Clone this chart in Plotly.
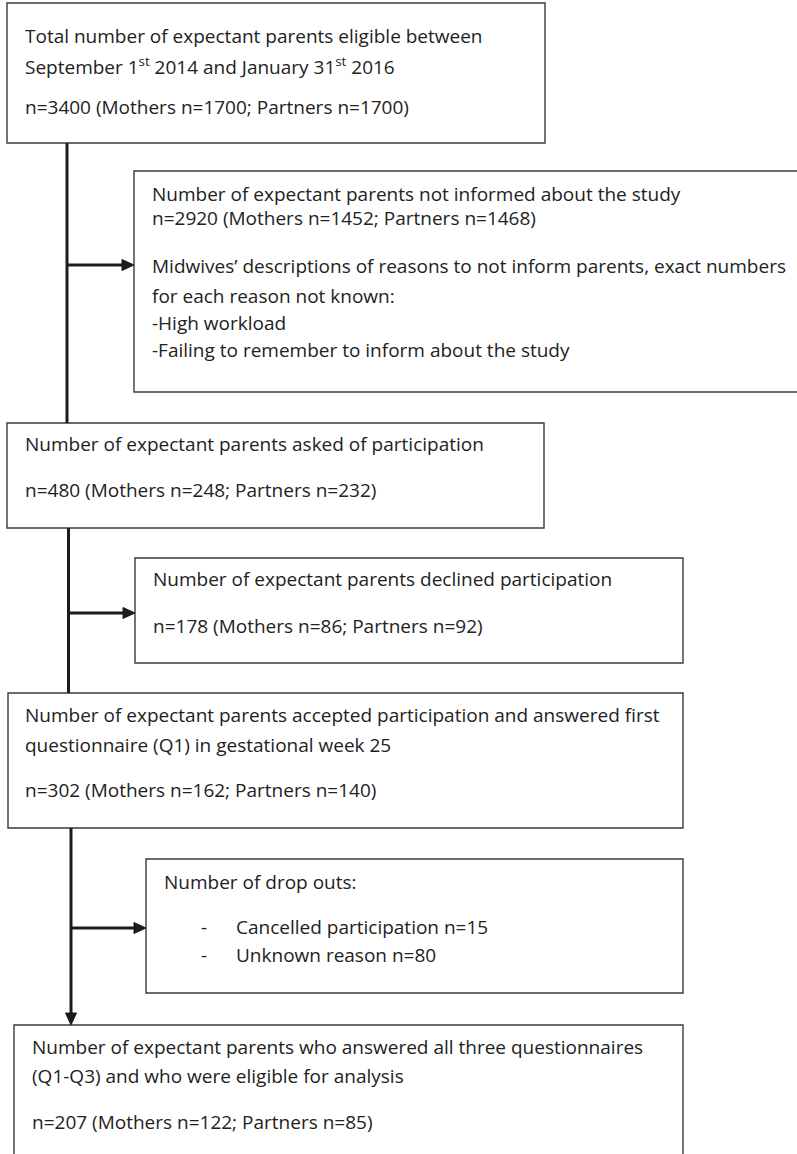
import plotly.graph_objects as go

# ---------------- data ----------------
main_titles = [
    ["Total number of expectant parents eligible between",
     "September 1<sup>st</sup> 2014 and January 31<sup>st</sup> 2016"],
    ["Number of expectant parents asked of participation"],
    ["Number of expectant parents accepted participation and answered first",
     "questionnaire (Q1) in gestational week 25"],
    ["Number of expectant parents who answered all three questionnaires",
     "(Q1-Q3) and who were eligible for analysis"],
]
main_n = [3400, 480, 302, 207]
main_mothers = [1700, 248, 162, 122]
main_partners = [1700, 232, 140, 85]

excl_titles = ["Number of expectant parents not informed about the study",
               "Number of expectant parents declined participation"]
excl_n = [2920, 178]
excl_mothers = [1452, 86]
excl_partners = [1468, 92]
not_informed_notes = [
    "Midwives\u2019 descriptions of reasons to not inform parents, exact numbers",
    "for each reason not known:",
    "-High workload",
    "-Failing to remember to inform about the study",
]
dropout_title = "Number of drop outs:"
dropout_reasons = ["Cancelled participation", "Unknown reason"]
dropout_n = [15, 80]

# ---------------- layout (pixel positions) ----------------
W, H = 797, 1154
main_boxes = [(7, 3, 545, 143), (7, 423, 544, 528), (8, 693, 683, 828), (14, 1025, 683, 1190)]
main_text_x = [23, 23, 23, 30]
main_line_y = [[36, 66, 107], [444, 490], [715, 745, 790], [1047, 1076, 1122]]

side_boxes = [(134, 171, 820, 392), (135, 558, 683, 663), (146, 859, 683, 993)]
side1_x, side1_y = 150, [194, 218, 266, 296, 323, 350]
side2_x, side2_y = 151, [579, 626]
side3_x, side3_y = 162, 882
dash_x, reason_x, reason_y = 199, 234, [927, 955]

trunk_x = [67, 68.5, 71]
branch_y = [265, 613, 928]

FONT = dict(family="'Open Sans', 'Noto Sans', sans-serif", size=19, color="#222222")
BORDER = dict(color="#3a3a3a", width=1.4)
CONN = dict(color="#1c1c1c", width=3)
CONN_FILL = "#1c1c1c"


def nline(n, m, p):
    return f"n={n} (Mothers n={m}; Partners n={p})"


shapes = []
annotations = []


def add_text(x, y, text):
    annotations.append(dict(x=x, y=y, xref="x", yref="y", text=text, showarrow=False,
                            xanchor="left", yanchor="middle", font=FONT, align="left"))


def add_box(b):
    shapes.append(dict(type="rect", xref="x", yref="y", x0=b[0], y0=b[1], x1=b[2], y1=b[3],
                       line=BORDER, fillcolor="rgba(0,0,0,0)", layer="above"))


def arrow_right(x0, x1, y):
    L, hw = 12, 5.5
    shapes.append(dict(type="line", xref="x", yref="y", x0=x0, y0=y, x1=x1 - L + 1, y1=y, line=CONN))
    shapes.append(dict(type="path", xref="x", yref="y",
                       path=f"M {x1},{y} L {x1 - L},{y - hw} L {x1 - L},{y + hw} Z",
                       fillcolor=CONN_FILL, line=dict(color=CONN_FILL, width=1)))


def arrow_down(x, y0, y1):
    L, hw = 12, 5.5
    shapes.append(dict(type="line", xref="x", yref="y", x0=x, y0=y0, x1=x, y1=y1 - L + 1, line=CONN))
    shapes.append(dict(type="path", xref="x", yref="y",
                       path=f"M {x},{y1} L {x - hw},{y1 - L} L {x + hw},{y1 - L} Z",
                       fillcolor=CONN_FILL, line=dict(color=CONN_FILL, width=1)))


# main boxes
for i, b in enumerate(main_boxes):
    add_box(b)
    lines = main_titles[i] + [nline(main_n[i], main_mothers[i], main_partners[i])]
    for t, y in zip(lines, main_line_y[i]):
        add_text(main_text_x[i], y, t)

# side boxes
for b in side_boxes:
    add_box(b)

side1_lines = [excl_titles[0], nline(excl_n[0], excl_mothers[0], excl_partners[0])] + not_informed_notes
for t, y in zip(side1_lines, side1_y):
    add_text(side1_x, y, t)

side2_lines = [excl_titles[1], nline(excl_n[1], excl_mothers[1], excl_partners[1])]
for t, y in zip(side2_lines, side2_y):
    add_text(side2_x, y, t)

add_text(side3_x, side3_y, dropout_title)
for r, n, y in zip(dropout_reasons, dropout_n, reason_y):
    add_text(dash_x, y, "-")
    add_text(reason_x, y, f"{r} n={n}")

# connectors
for k in range(3):
    top = main_boxes[k][3]
    bottom = main_boxes[k + 1][1]
    x = trunk_x[k]
    if k < 2:
        shapes.append(dict(type="line", xref="x", yref="y", x0=x, y0=top, x1=x, y1=bottom, line=CONN))
    else:
        arrow_down(x, top, bottom)
    arrow_right(x, side_boxes[k][0], branch_y[k])

fig = go.Figure()
fig.update_layout(
    width=W, height=H,
    margin=dict(l=0, r=0, t=0, b=0),
    paper_bgcolor="white", plot_bgcolor="white",
    xaxis=dict(range=[0, W], visible=False, fixedrange=True),
    yaxis=dict(range=[H, 0], visible=False, fixedrange=True),
    shapes=shapes,
    annotations=annotations,
    showlegend=False,
)

fig.write_html("out.html", config={"displayModeBar": False},
               post_script="document.body.style.margin='0';document.body.style.overflow='hidden';")
